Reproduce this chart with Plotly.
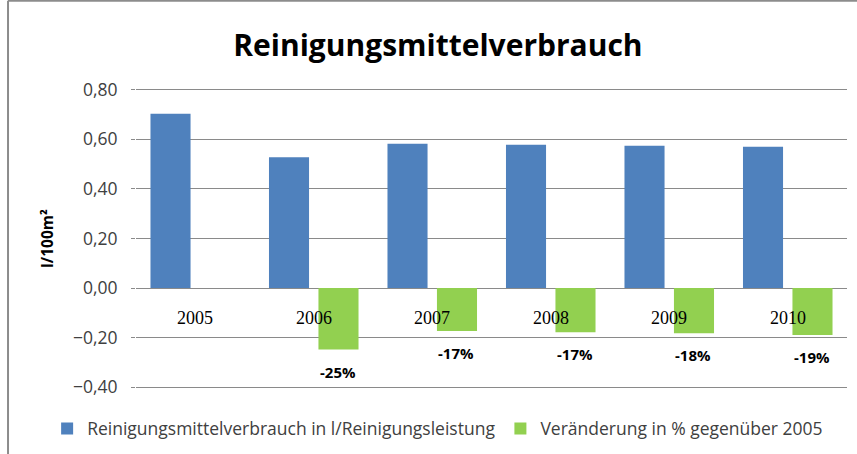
import plotly.graph_objects as go

years = ["2005", "2006", "2007", "2008", "2009", "2010"]
consumption = [0.703, 0.528, 0.582, 0.578, 0.574, 0.570]
change_years = ["2006", "2007", "2008", "2009", "2010"]
change = [-0.248, -0.173, -0.178, -0.182, -0.189]
change_labels = ["-25%", "-17%", "-17%", "-18%", "-19%"]
y_ticks = [-0.4, -0.2, 0.0, 0.2, 0.4, 0.6, 0.8]

name_blue = "Reinigungsmittelverbrauch in l/Reinigungsleistung"
name_green = "Veränderung in % gegenüber 2005"

fig = go.Figure()
fig.add_trace(go.Bar(x=years, y=consumption, name=name_blue,
                     marker=dict(color="#4F81BD", line=dict(width=0))))
fig.add_trace(go.Bar(x=change_years, y=change, name=name_green,
                     marker=dict(color="#92D050", line=dict(width=0))))

annotations = []
for yr in years:
    annotations.append(dict(x=years.index(yr), y=0, xref="x", yref="y", text=yr, showarrow=False,
                            yanchor="middle", yshift=-30,
                            font=dict(family="Liberation Serif", size=18, color="#000000")))
for yr, v, lab in zip(change_years, change, change_labels):
    annotations.append(dict(x=years.index(yr), y=v, xref="x", yref="y", text="<b>" + lab + "</b>",
                            showarrow=False, yanchor="middle", yshift=-22, xshift=24,
                            font=dict(family="Open Sans", size=15, color="#000000")))

fig.update_layout(
    width=857, height=454,
    margin=dict(l=136, r=10, t=88, b=65, autoexpand=False),
    paper_bgcolor="white", plot_bgcolor="white",
    separators=", ",
    barmode="group", bargap=0.165, bargroupgap=0.19,
    title=dict(text="<b>Reinigungsmittelverbrauch</b>", x=0.511, xanchor="center",
               y=0.9, yanchor="middle",
               font=dict(family="Open Sans", size=30, color="#000000")),
    xaxis=dict(type="category", categoryorder="array", categoryarray=years,
               range=[-0.5, len(years) - 0.5], automargin=False,
               showticklabels=False, showgrid=False, zeroline=False, showline=False,
               ticks=""),
    yaxis=dict(range=[-0.407, 0.807], tickvals=y_ticks, tickformat=".2f", automargin=False,
               showgrid=True, gridcolor="#8a8a8a", gridwidth=1,
               zeroline=True, zerolinecolor="#8a8a8a", zerolinewidth=1,
               showline=False, ticks="outside", ticklen=4, tickcolor="#8a8a8a",
               ticklabelstandoff=10,
               tickfont=dict(family="Open Sans", size=17.5, color="#404040"),
               title=dict(text="<b>l/100m²</b>", standoff=15,
                          font=dict(family="Open Sans", size=15.5, color="#000000"))),
    legend=dict(orientation="h", x=-0.125, xanchor="left", y=-0.072, yanchor="top",
                font=dict(family="Open Sans", size=17.5, color="#404040"),
                bgcolor="rgba(0,0,0,0)", itemsizing="constant", traceorder="normal"),
    annotations=annotations,
    shapes=[
        dict(type="line", xref="paper", yref="paper", x0=-0.18, x1=-0.18, y0=1.2896, y1=-0.4,
             line=dict(color="#8c8c8c", width=2)),
        dict(type="line", xref="paper", yref="paper", x0=-0.18, x1=1.2, y0=1.2896, y1=1.2896,
             line=dict(color="#8c8c8c", width=2)),
    ],
)

fig.write_html("out.html", config={"displayModeBar": False},
               post_script="document.body.style.margin='0';")
